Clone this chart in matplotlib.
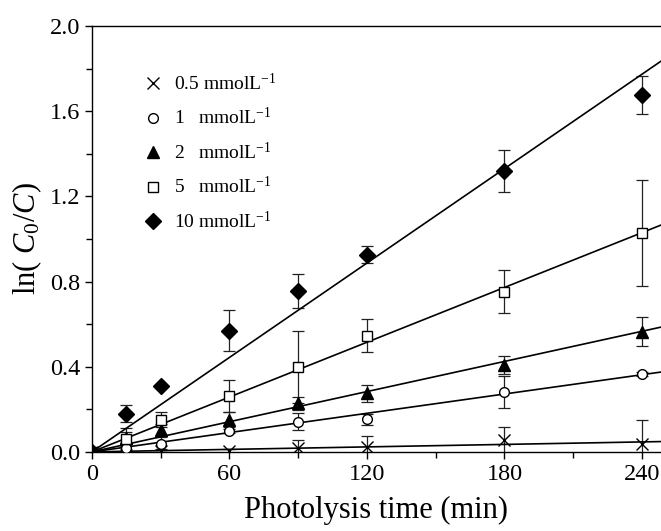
import matplotlib.pyplot as plt
import numpy as np
from matplotlib.ticker import MultipleLocator

plt.rcParams['font.family'] = ['Liberation Serif', 'DejaVu Serif']
plt.rcParams['mathtext.fontset'] = 'custom'
plt.rcParams['mathtext.rm'] = 'Liberation Serif'
plt.rcParams['mathtext.it'] = 'Liberation Serif:italic'

# Data
time = [15, 30, 60, 90, 120, 180, 240]
labels = ['0.5 mmolL$^{-1}$', '1   mmolL$^{-1}$', '2   mmolL$^{-1}$',
          '5   mmolL$^{-1}$', '10 mmolL$^{-1}$']
markers = ['x', 'o', '^', 's', 'D']
fills = ['black', 'white', 'black', 'white', 'black']
msizes = [8, 7, 9, 7, 8]

y_05 = [0.005, 0.005, 0.005, 0.02, 0.025, 0.056, 0.036]
e_05 = [0.01, 0.01, 0.01, 0.035, 0.05, 0.06, 0.115]
y_1 = [0.02, 0.038, 0.098, 0.142, 0.153, 0.28, 0.366]
e_1 = [0.02, 0.03, 0.01, 0.04, 0.025, 0.075, 0.01]
y_2 = [0.065, 0.103, 0.15, 0.229, 0.276, 0.408, 0.565]
e_2 = [0.03, 0.03, 0.035, 0.03, 0.04, 0.04, 0.07]
y_5 = [0.06, 0.15, 0.263, 0.40, 0.545, 0.753, 1.027]
e_5 = [0.05, 0.035, 0.075, 0.17, 0.078, 0.10, 0.25]
y_10 = [0.178, 0.31, 0.57, 0.757, 0.925, 1.32, 1.676]
e_10 = [0.04, 0.01, 0.095, 0.08, 0.04, 0.10, 0.09]

slopes = [0.000195, 0.00151, 0.00236, 0.00429, 0.00739]

series = [y_05, y_1, y_2, y_5, y_10]
errors = [e_05, e_1, e_2, e_5, e_10]

fig = plt.figure(figsize=(6.61, 5.31), dpi=100)
ax = fig.add_axes([0.139, 0.149, 0.861, 0.802])

t_fit = np.array([0, 250])
for ys, es, m, fc, ms, k, lab in zip(series, errors, markers, fills, msizes, slopes, labels):
    ax.errorbar(time, ys, yerr=es, fmt='none', ecolor='#222222', elinewidth=0.9,
                capsize=4, capthick=0.9, zorder=2)
    ax.plot(t_fit, k * t_fit, color='black', lw=1.2, zorder=3)
    ax.plot([0] + time, [0] + ys, linestyle='none', marker=m, ms=ms,
            markerfacecolor=fc, markeredgecolor='black', markeredgewidth=1.0,
            label=lab, zorder=4)

ax.set_xlim(0, 248.3)
ax.set_ylim(0, 2.0)
ax.xaxis.set_major_locator(MultipleLocator(60))
ax.xaxis.set_minor_locator(MultipleLocator(30))
ax.yaxis.set_major_locator(MultipleLocator(0.4))
ax.yaxis.set_minor_locator(MultipleLocator(0.2))
ax.yaxis.set_major_formatter(plt.FormatStrFormatter('%.1f'))
ax.tick_params(axis='both', which='both', direction='out', labelsize=17.5, width=1)
ax.tick_params(which='major', length=5)
ax.tick_params(which='minor', length=4)
ax.spines['right'].set_visible(False)
for s in ax.spines.values():
    s.set_linewidth(1.0)

ax.set_xlabel('Photolysis time (min)', fontsize=22, labelpad=8)
ax.set_ylabel('ln( $\\mathit{C}_{\\mathrm{0}}$/$\\mathit{C}$)', fontsize=22, labelpad=4)

ax.legend(loc='upper left', bbox_to_anchor=(0.076, 0.908), borderaxespad=0,
          frameon=False, fontsize=14, handlelength=1.0, handletextpad=0.6,
          labelspacing=0.68)

fig.savefig('out.png', dpi=100)
